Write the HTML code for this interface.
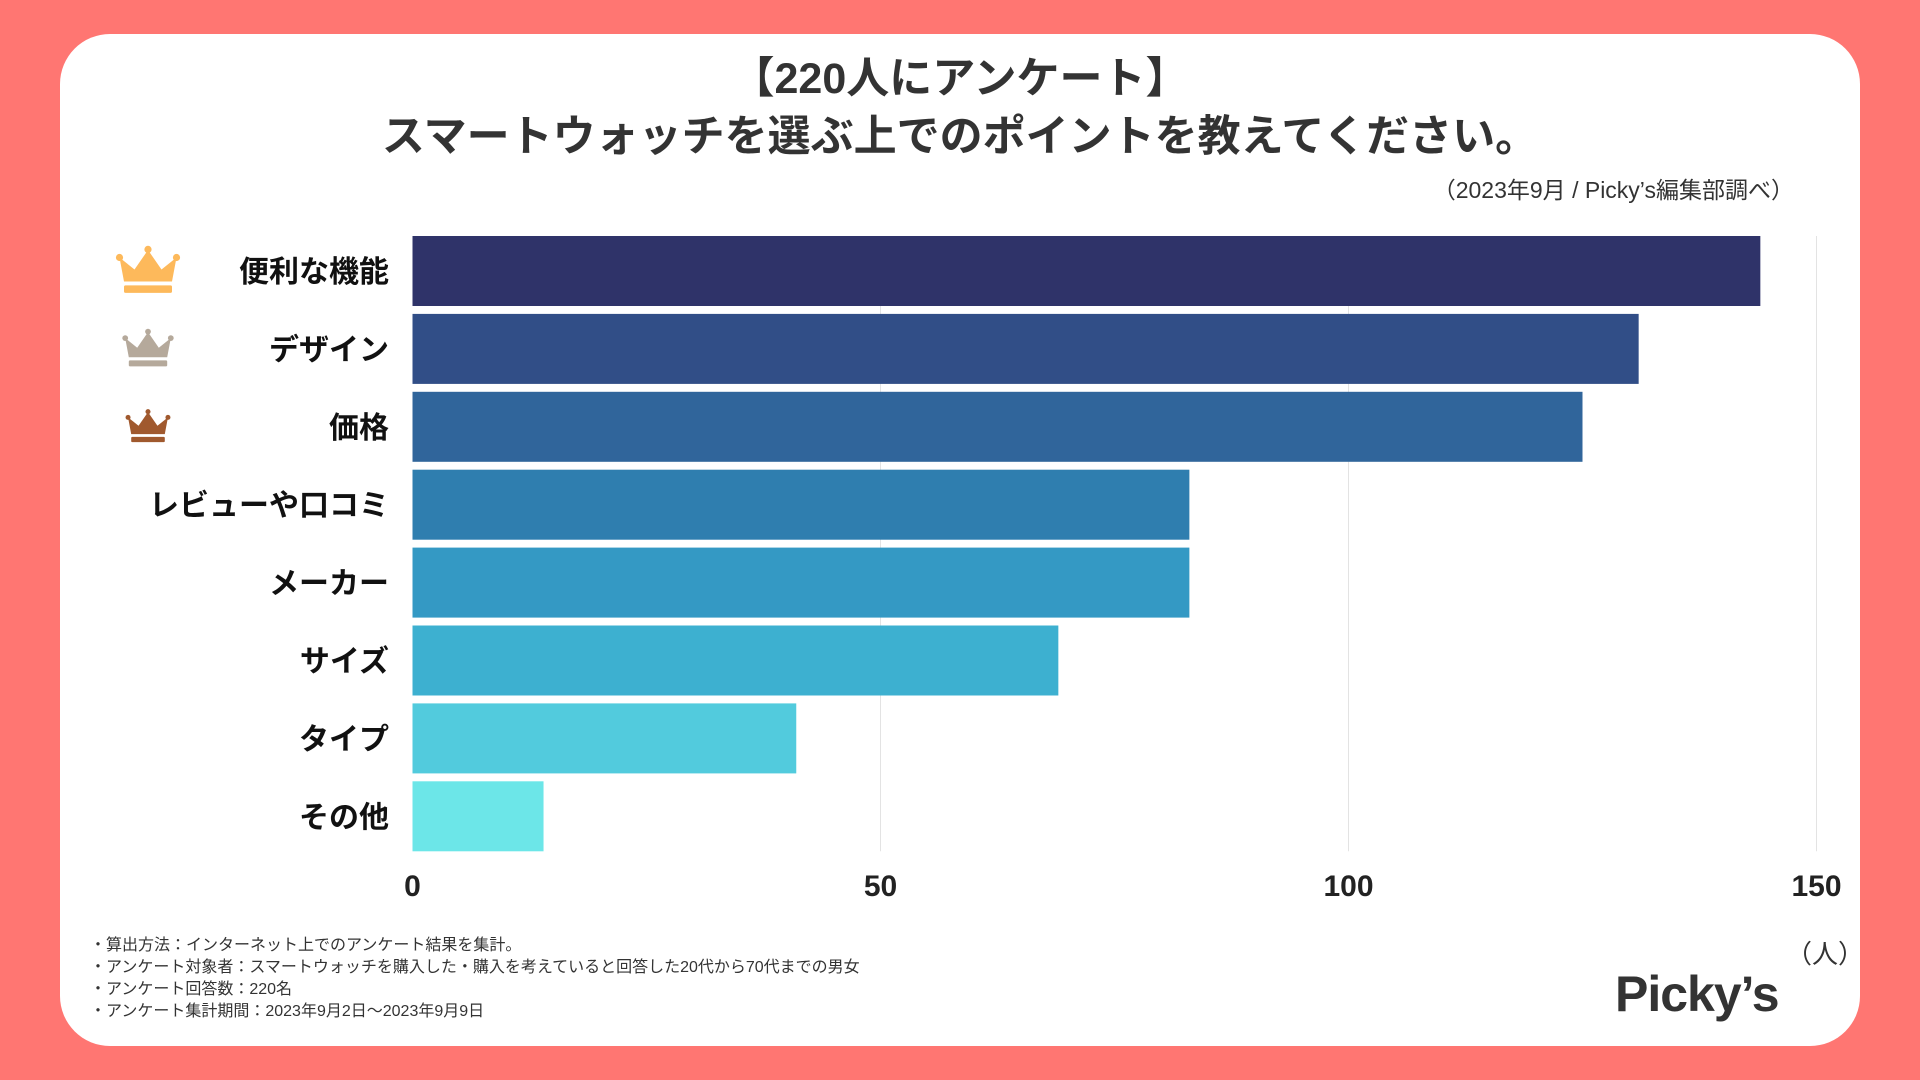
<!DOCTYPE html>
<html><head><meta charset="utf-8">
<style>
body{margin:0;width:1920px;height:1080px;background:#FF7672;overflow:hidden;font-family:"Liberation Sans","Noto Sans CJK JP",sans-serif;}
#card{position:absolute;left:60px;top:34px;width:1800px;height:1012px;background:#fff;border-radius:50px;}
.t{position:absolute;white-space:nowrap;color:#333;}
</style></head><body>
<div id="card"></div>
<div class="t" style="left:0;width:1920px;text-align:center;top:44px;font-size:43px;font-weight:bold;">【220人にアンケート】</div>
<div class="t" style="left:0;width:1920px;text-align:center;top:102px;font-size:43px;font-weight:bold;">スマートウォッチを選ぶ上でのポイントを教えてください。</div>
<div class="t" style="right:126px;top:171px;font-size:23px;">（2023年9月 / Picky’s編集部調べ）</div>
<svg id="chart" width="1920" height="1080" style="position:absolute;left:0;top:0"></svg>
<div class="t" style="left:90px;top:935px;font-size:16px;line-height:22px;">・算出方法：インターネット上でのアンケート結果を集計。<br>・アンケート対象者：スマートウォッチを購入した・購入を考えていると回答した20代から70代までの男女<br>・アンケート回答数：220名<br>・アンケート集計期間：2023年9月2日～2023年9月9日</div>
<div class="t" style="left:1786px;top:934px;font-size:26px;">（人）</div>
<div class="t" style="left:1615px;top:965px;font-size:50px;font-weight:bold;color:#333;letter-spacing:-1px;">Picky’s</div>
<script>
const categories=["便利な機能","デザイン","価格","レビューや口コミ","メーカー","サイズ","タイプ","その他"];
const values=[144,131,125,83,83,69,41,14];
const ticks=[0,50,100,150];
const colors=["#2f3369","#314e87","#30659b","#2f7eaf","#3499c4","#3db0d0","#52cbdd","#6ce6e8"];
const NS="http://www.w3.org/2000/svg";
const svg=document.getElementById('chart');
const x0=412.5,pxPer=9.36,top0=236,pitch=77.9,bh=70;
const xs=v=>x0+v*pxPer;
function mk(t,a){const e=document.createElementNS(NS,t);for(const k in a)e.setAttribute(k,a[k]);svg.appendChild(e);return e;}
ticks.forEach(t=>{
  if(t>0){const g=mk('line',{x1:xs(t),x2:xs(t),y1:top0,y2:top0+pitch*7+bh,stroke:'#e3e3e3','stroke-width':1});
  
  }
  const l=mk('text',{x:xs(t),y:896,'text-anchor':'middle','font-size':30,'font-weight':'bold',fill:'#222','font-family':'"Liberation Sans",sans-serif'});
  l.textContent=t;
  
  
});
categories.forEach((c,i)=>{
  const y=top0+i*pitch;
  const r=mk('rect',{x:x0,y:y,width:xs(values[i])-x0,height:bh,fill:colors[i]});
  
  
  const t=mk('text',{x:389,y:y+bh/2+11,'text-anchor':'end','font-size':30,'font-weight':'bold',fill:'#111','font-family':'"Liberation Sans","Noto Sans CJK JP",sans-serif'});
  t.textContent=c;
  
  
});
const crowns=[["#FDB95B",1.0],["#B5A99B",0.8],["#A0592E",0.7]];
crowns.forEach((cr,i)=>{
  const cx=148,cy=top0+i*pitch+bh/2,s=cr[1]*30;
  const g=document.createElementNS(NS,'g');
  
  
  g.setAttribute('fill',cr[0]);
  g.innerHTML=`<path d="M${cx-s*0.95} ${cy-s*0.45} L${cx-s*0.8} ${cy+s*0.35} L${cx+s*0.8} ${cy+s*0.35} L${cx+s*0.95} ${cy-s*0.45} L${cx+s*0.45} ${cy-s*0.05} L${cx} ${cy-s*0.7} L${cx-s*0.45} ${cy-s*0.05} Z"/>
  <circle cx="${cx-s*0.95}" cy="${cy-s*0.45}" r="${s*0.12}"/><circle cx="${cx+s*0.95}" cy="${cy-s*0.45}" r="${s*0.12}"/><circle cx="${cx}" cy="${cy-s*0.72}" r="${s*0.12}"/>
  <rect x="${cx-s*0.8}" y="${cy+s*0.48}" width="${s*1.6}" height="${s*0.25}" rx="${s*0.05}"/>`;
  svg.appendChild(g);
});
</script>
</body></html>
